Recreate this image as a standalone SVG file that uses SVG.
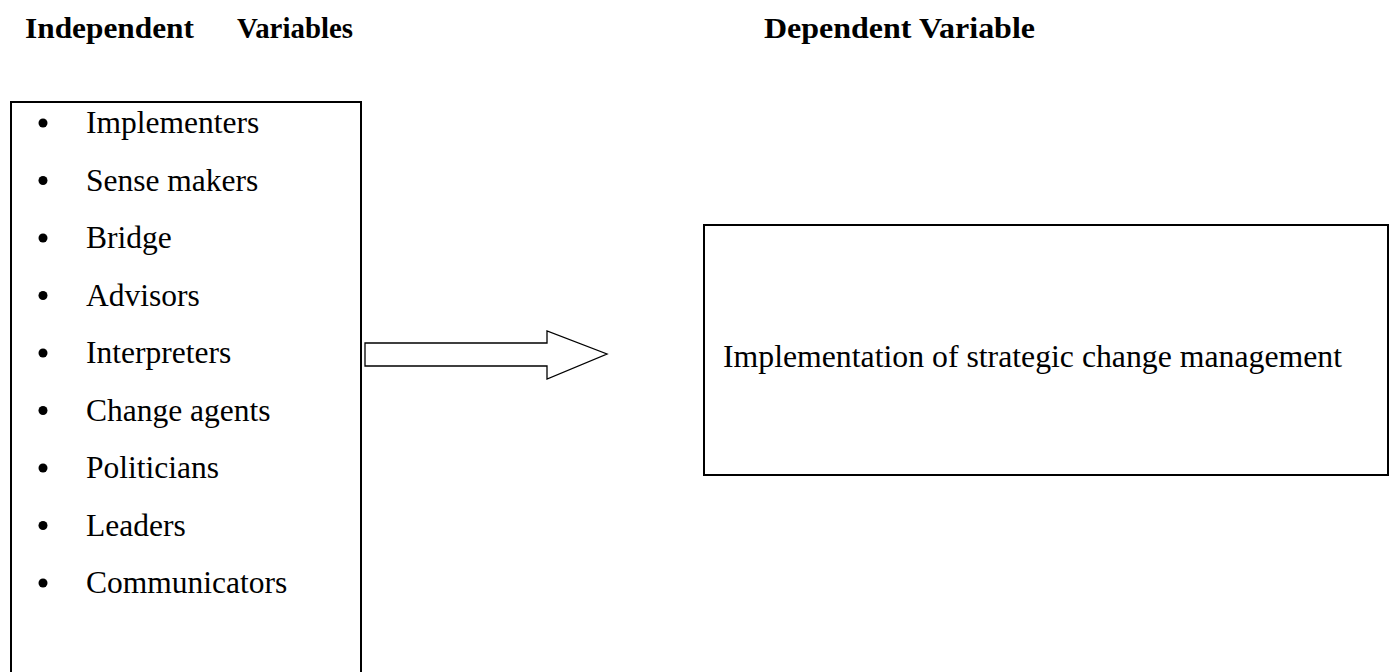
<svg xmlns="http://www.w3.org/2000/svg" width="1395" height="672" viewBox="0 0 1395 672">
<style>
.h{font-family:"Liberation Serif","Times New Roman",serif;font-weight:bold;font-size:30px;fill:#000}
.t{font-family:"Liberation Serif","Times New Roman",serif;font-size:31.5px;fill:#000}
.box{fill:#fff;stroke:#000;stroke-width:2}
.b{fill:#000}
</style>
<rect width="1395" height="672" fill="#fff"/>
<g id="headers">
<text class="h" x="25" y="38" textLength="169" lengthAdjust="spacingAndGlyphs">Independent</text>
<text class="h" x="237" y="38" textLength="116" lengthAdjust="spacingAndGlyphs">Variables</text>
<text class="h" x="764" y="38" textLength="271" lengthAdjust="spacingAndGlyphs">Dependent Variable</text>
</g>
<g id="independent-variables">
<rect class="box" x="11" y="102" width="350" height="590"/>
<g class="b">
<circle cx="43" cy="123" r="4.5"/>
<circle cx="43" cy="180.5" r="4.5"/>
<circle cx="43" cy="238" r="4.5"/>
<circle cx="43" cy="295.5" r="4.5"/>
<circle cx="43" cy="353" r="4.5"/>
<circle cx="43" cy="410.5" r="4.5"/>
<circle cx="43" cy="468" r="4.5"/>
<circle cx="43" cy="525.5" r="4.5"/>
<circle cx="43" cy="583" r="4.5"/>
</g>
<text class="t" x="86" y="133">Implementers</text>
<text class="t" x="86" y="190.5">Sense makers</text>
<text class="t" x="86" y="248">Bridge</text>
<text class="t" x="86" y="305.5">Advisors</text>
<text class="t" x="86" y="363">Interpreters</text>
<text class="t" x="86" y="420.5">Change agents</text>
<text class="t" x="86" y="478">Politicians</text>
<text class="t" x="86" y="535.5">Leaders</text>
<text class="t" x="86" y="593">Communicators</text>
</g>
<g id="connectors">
<polygon points="365,343 547,343 547,331 607,354 547,379 547,366 365,366" fill="#fff" stroke="#000" stroke-width="1.3" stroke-linejoin="miter"/>
</g>
<g id="dependent-variable">
<rect class="box" x="704" y="225" width="684" height="250"/>
<text class="t" x="723" y="367" textLength="619" lengthAdjust="spacingAndGlyphs">Implementation of strategic change management</text>
</g>
</svg>
